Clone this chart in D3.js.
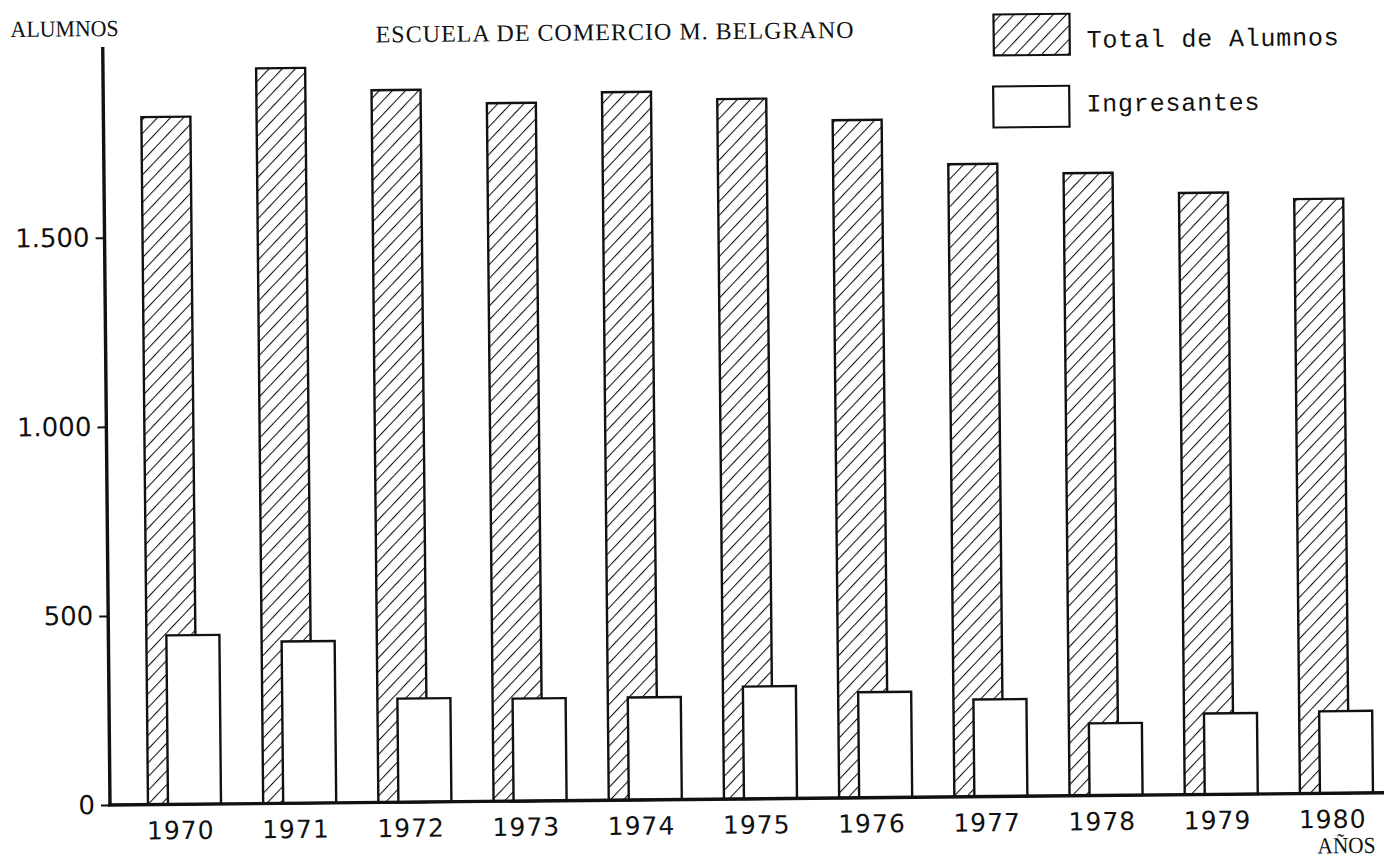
<!DOCTYPE html>
<html>
<head>
<meta charset="utf-8">
<script src="https://cdn.jsdelivr.net/npm/d3@7"></script>
<style>
  html, body { margin: 0; padding: 0; background: #fff; }
  svg { display: block; }
</style>
</head>
<body>
<svg id="chart" width="1384" height="857"></svg>
<script>
// ---- data ----
const years = ["1970","1971","1972","1973","1974","1975","1976","1977","1978","1979","1980"];
const totalAlumnos = [1818,1944,1883,1846,1872,1851,1792,1673,1646,1591,1572];
const ingresantes = [447,428,274,271,271,297,279,257,191,214,217];
const yTickValues = [0,500,1000,1500];
const yTickLabels = ["0","500","1.000","1.500"];
const seriesNames = ["Total de Alumnos","Ingresantes"];
const titleText = "ESCUELA DE COMERCIO M. BELGRANO";
const yAxisTitle = "ALUMNOS";
const xAxisTitle = "AÑOS";

// ---- layout ----
const W = 1384, H = 857;
const originX = 110, originY = 805;
const svg = d3.select("#chart");
svg.append("rect").attr("width", W).attr("height", H).attr("fill", "#fff");

const defs = svg.append("defs");
defs.append("pattern")
  .attr("id", "hatch")
  .attr("patternUnits", "userSpaceOnUse")
  .attr("width", 9.5).attr("height", 9.5)
  .attr("patternTransform", "rotate(44)")
  .append("line")
  .attr("x1", 0).attr("y1", 0).attr("x2", 0).attr("y2", 9.5)
  .attr("stroke", "#111").attr("stroke-width", 2.1);

// whole sheet slightly rotated like the scanned page
const g = svg.append("g").attr("transform", `rotate(-0.55, ${originX}, ${originY})`);

const y = d3.scaleLinear().domain([0, 1500]).range([originY, 237.7]);
const x = d3.scaleBand().domain(years).range([126.9, 1394.1])
  .paddingInner(0.366).paddingOuter(0.183);
const bw = x.bandwidth();

const data = years.map((yr, i) => ({ year: yr, total: totalAlumnos[i], ing: ingresantes[i] }));

// total bars (hatched)
g.selectAll("rect.total").data(data).enter().append("rect")
  .attr("class", "total")
  .attr("x", d => x(d.year))
  .attr("y", d => y(d.total))
  .attr("width", bw * 0.671)
  .attr("height", d => y(0) - y(d.total))
  .attr("fill", "url(#hatch)")
  .attr("stroke", "#111").attr("stroke-width", 2.4);

// ingresantes bars (white, in front)
g.selectAll("rect.ing").data(data).enter().append("rect")
  .attr("class", "ing")
  .attr("x", d => x(d.year) + bw * 0.274)
  .attr("y", d => y(d.ing))
  .attr("width", bw * 0.726)
  .attr("height", d => y(0) - y(d.ing))
  .attr("fill", "#fff")
  .attr("stroke", "#111").attr("stroke-width", 2.4);

// y axis
const yAxis = d3.axisLeft(y).tickValues(yTickValues)
  .tickFormat((d, i) => yTickLabels[i]).tickSize(9).tickPadding(6);
const yg = g.append("g").attr("transform", `translate(${originX},0)`).call(yAxis);
yg.select(".domain").remove();
yg.selectAll(".tick line").attr("stroke", "#111").attr("stroke-width", 2);
yg.selectAll(".tick text")
  .attr("font-family", "DejaVu Sans, sans-serif").attr("font-size", 26)
  .attr("fill", "#111");
g.append("line").attr("x1", originX).attr("x2", originX)
  .attr("y1", 47).attr("y2", originY + 1)
  .attr("stroke", "#111").attr("stroke-width", 3.4);

// x axis
const xAxis = d3.axisBottom(x).tickSize(0).tickPadding(17);
const xg = g.append("g").attr("transform", `translate(0,${originY})`).call(xAxis);
xg.select(".domain").remove();
xg.selectAll(".tick text")
  .attr("x", -4)
  .attr("font-family", "DejaVu Sans, sans-serif").attr("font-size", 25)
  .attr("letter-spacing", 1)
  .attr("fill", "#111");
g.append("line").attr("x1", originX - 2).attr("x2", 1410)
  .attr("y1", originY).attr("y2", originY)
  .attr("stroke", "#111").attr("stroke-width", 3.4);

// titles
g.append("text").attr("x", 383).attr("y", 45)
  .attr("font-family", "Liberation Serif, serif").attr("font-size", 24)
  .attr("textLength", 478).attr("lengthAdjust", "spacing")
  .attr("fill", "#111").text(titleText);
g.append("text").attr("x", 18).attr("y", 36)
  .attr("font-family", "Liberation Serif, serif").attr("font-size", 23)
  .attr("textLength", 108).attr("lengthAdjust", "spacingAndGlyphs")
  .attr("fill", "#111").text(yAxisTitle);
g.append("text").attr("x", 1317).attr("y", 865)
  .attr("font-family", "Liberation Serif, serif").attr("font-size", 23)
  .attr("textLength", 58).attr("lengthAdjust", "spacingAndGlyphs")
  .attr("fill", "#111").text(xAxisTitle);

// legend
const legendItems = [
  { name: seriesNames[0], fill: "url(#hatch)", bx: 1001, by: 23, tx: 1094, ty: 57 },
  { name: seriesNames[1], fill: "#fff", bx: 1000, by: 95, tx: 1093, ty: 121 }
];
const lg = g.append("g");
lg.selectAll("rect").data(legendItems).enter().append("rect")
  .attr("x", d => d.bx).attr("y", d => d.by)
  .attr("width", 76).attr("height", 41)
  .attr("fill", d => d.fill).attr("stroke", "#111").attr("stroke-width", 2.2);
lg.selectAll("text").data(legendItems).enter().append("text")
  .attr("x", d => d.tx).attr("y", d => d.ty)
  .attr("font-family", "Liberation Mono, monospace").attr("font-size", 25)
  .attr("textLength", d => d.name.length * 15.75).attr("lengthAdjust", "spacing")
  .attr("fill", "#111").text(d => d.name);
</script>
</body>
</html>
